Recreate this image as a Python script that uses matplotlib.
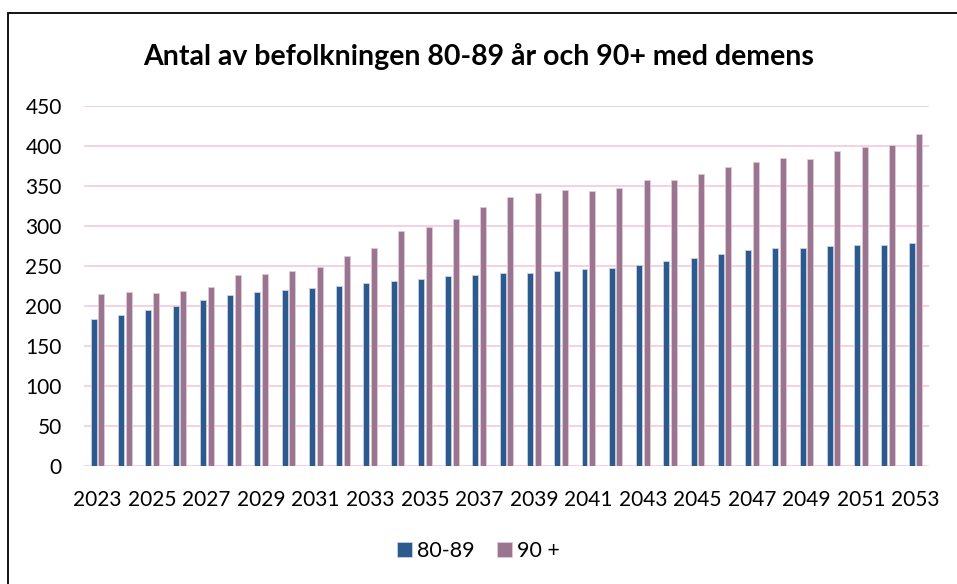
import numpy as np
import matplotlib
matplotlib.use("Agg")
import matplotlib.pyplot as plt
from matplotlib.patches import Rectangle

plt.rcParams['font.family'] = ['Lato', 'DejaVu Sans']

years = list(range(2023, 2054))
age_80_89 = [184, 189, 195, 200, 207, 213, 217, 220, 222, 225, 229,
             231, 233, 237, 239, 241, 241, 244, 246, 247, 251,
             256, 260, 265, 270, 272, 272, 275, 276, 276, 279]
age_90 = [215, 217, 216, 218, 223, 238, 240, 243, 248, 262, 272,
          294, 298, 308, 324, 336, 341, 345, 344, 347, 357,
          357, 365, 373, 380, 385, 383, 393, 398, 401, 415]
series_names = ['80-89', '90 +']
title = 'Antal av befolkningen 80-89 år och 90+ med demens'

fig = plt.figure(figsize=(9.57, 5.84), dpi=100)
ax = fig.add_axes([0.0878, 0.202, 0.883, 0.617])

# frame round the chart (only top and left edge fall inside the picture)
fig.patches.append(Rectangle((8 / 957, -0.1), 1.2, 0.1 + (584 - 13.5) / 584,
                             transform=fig.transFigure, fill=False,
                             edgecolor='black', linewidth=1.3))

x = np.arange(len(years))
w = 0.22
ax.bar(x - 0.14, age_80_89, w, color='#2D5A8E', edgecolor='#C9D3E3',
       linewidth=0.6, label=series_names[0], zorder=3)
ax.bar(x + 0.14, age_90, w, color='#9B758F', edgecolor='#DCCCD7',
       linewidth=0.6, label=series_names[1], zorder=3)

ax.set_xlim(-0.5, len(years) - 0.5)
ax.set_ylim(0, 450)
ax.set_yticks(range(0, 451, 50))
ax.set_xticks(x[::2])
ax.set_xticklabels([str(y) for y in years[::2]])
ax.tick_params(axis='both', length=0, labelsize=15, colors='black')
ax.tick_params(axis='y', pad=16)
ax.tick_params(axis='x', pad=17)
ax.grid(axis='y', color='#F5C8DF', linewidth=1.2, zorder=0)
for s in ax.spines.values():
    s.set_visible(False)

fig.text(0.5, 1 - 57 / 584, title, ha='center', va='center',
         fontsize=20.5, fontweight='bold')

fig.legend(loc='center', bbox_to_anchor=(0.5, 1 - 551 / 584), ncol=2,
           frameon=False, fontsize=15.5, handlelength=0.7, handleheight=0.7,
           handletextpad=0.25, columnspacing=1.0)

fig.savefig('out.png', dpi=100)
